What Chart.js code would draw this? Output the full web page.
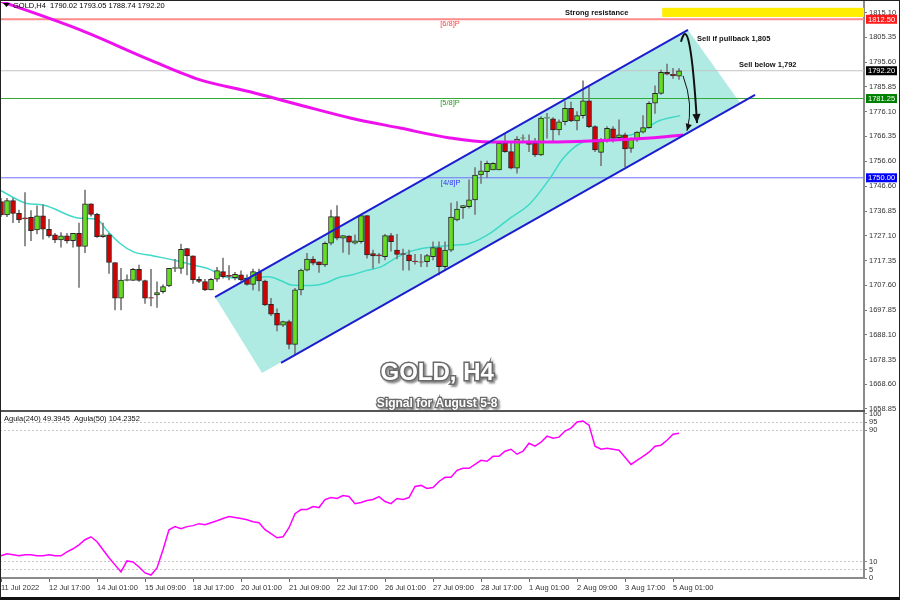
<!DOCTYPE html>
<html>
<head>
<meta charset="utf-8">
<script src="https://cdn.jsdelivr.net/npm/chart.js@4.4.0/dist/chart.umd.min.js"></script>
<style>
  html, body { margin:0; padding:0; background:#fff; }
  #wrap { position:relative; width:900px; height:600px; overflow:hidden; background:#fff; }
  #main { position:absolute; left:0; top:0; }
  #osc { position:absolute; left:0; top:405px; }
  #sep { position:absolute; left:0; top:410px; width:865px; height:2px; background:#555; }
  #frame { position:absolute; left:0; top:0; width:900px; height:600px; box-sizing:border-box; border:1px solid #222; border-bottom:3px solid #111; pointer-events:none; }
</style>
</head>
<body>
<div id="wrap">
  <canvas id="main" width="900" height="411"></canvas>
  <canvas id="osc" width="900" height="195"></canvas>
  <div id="sep"></div>
  <div id="frame"></div>
</div>
<script>
// velas H4 (indice de barra 0..113)
var openP  = [1740.6,1735.4,1741.0,1736.0,1734.2,1734.4,1729.4,1735.0,1729.7,1727.5,1725.5,1727.1,1725.2,1728.1,1722.9,1739.7,1735.6,1726.8,1727.5,1716.6,
              1702.5,1709.5,1709.5,1713.9,1709.5,1702.8,1703.8,1705.1,1707.4,1714.3,1714.3,1722.1,1719.2,1710.0,1709.1,1705.8,1710.0,1713.0,1711.5,1710.6,
              1711.7,1710.4,1708.0,1712.7,1709.3,1700.1,1696.6,1691.9,1693.3,1684.3,1705.8,1713.6,1718.0,1716.9,1715.6,1724.2,1734.7,1726.2,1727.0,1724.2,
              1724.8,1735.1,1720.1,1719.6,1718.9,1727.2,1721.5,1720.1,1719.6,1717.2,1716.9,1716.9,1718.9,1722.5,1715.0,1721.5,1733.4,1738.2,1738.6,1741.3,
              1751.1,1752.4,1753.1,1753.1,1763.6,1760.3,1753.8,1765.6,1764.5,1763.6,1759.0,1773.5,1773.2,1768.9,1772.1,1777.4,1772.4,1774.5,1780.3,1770.2,
              1760.0,1764.5,1769.3,1765.8,1766.9,1761.6,1764.9,1768.0,1769.8,1779.4,1783.3,1791.6,1790.8,1790.02];
var highP  = [1741.9,1741.9,1741.9,1737.3,1744.2,1737.1,1738.9,1739.3,1733.6,1728.1,1728.4,1728.1,1728.1,1732.1,1745.2,1739.7,1736.0,1732.1,1728.1,1716.6,
              1714.3,1711.7,1714.3,1715.6,1709.7,1713.9,1709.0,1707.8,1714.3,1717.9,1723.9,1722.2,1719.2,1711.0,1710.0,1710.4,1714.7,1718.3,1715.4,1712.7,
              1713.3,1711.7,1714.0,1714.0,1709.7,1702.5,1698.3,1693.5,1693.9,1706.4,1714.0,1720.2,1718.9,1716.9,1724.8,1737.3,1739.0,1727.2,1727.2,1727.5,
              1735.3,1735.1,1721.5,1720.2,1727.7,1728.1,1727.7,1721.9,1721.5,1719.8,1719.8,1719.8,1724.8,1724.8,1724.8,1740.0,1740.6,1739.0,1749.2,1754.0,
              1756.6,1756.6,1756.0,1763.6,1767.2,1764.0,1766.2,1766.9,1766.9,1765.6,1774.1,1775.4,1773.7,1772.8,1780.0,1779.8,1776.1,1788.2,1785.9,1770.6,
              1765.6,1770.2,1770.2,1772.8,1767.6,1765.8,1768.2,1774.5,1780.0,1786.3,1792.5,1794.8,1793.2,1793.05];
var lowP   = [1734.7,1734.7,1732.3,1732.3,1723.1,1725.2,1727.9,1725.8,1726.5,1724.4,1722.6,1724.2,1722.6,1706.8,1720.5,1734.9,1726.5,1726.5,1712.3,1697.9,
              1697.9,1709.3,1709.5,1709.1,1700.5,1699.5,1698.9,1704.5,1707.1,1713.0,1712.3,1711.7,1708.4,1708.7,1705.5,1705.8,1709.1,1710.4,1709.7,1709.7,
              1709.3,1707.7,1705.8,1705.4,1699.6,1695.6,1689.6,1691.3,1682.5,1680.4,1703.8,1713.3,1715.6,1712.7,1715.0,1723.5,1725.5,1720.6,1719.8,1723.8,
              1724.2,1718.3,1714.3,1716.3,1717.6,1721.1,1718.0,1713.6,1713.6,1715.9,1715.0,1715.0,1717.6,1711.7,1713.6,1720.9,1733.0,1734.0,1738.0,1735.6,
              1747.8,1750.0,1753.1,1753.1,1760.0,1753.5,1751.8,1764.0,1760.3,1758.3,1758.7,1765.6,1764.5,1766.9,1770.8,1772.1,1768.9,1773.5,1769.8,1760.3,
              1754.8,1764.0,1764.0,1764.9,1754.4,1760.0,1764.3,1767.6,1769.5,1775.4,1782.9,1790.6,1789.2,1788.74];
var closeP = [1735.4,1741.0,1736.0,1733.4,1733.8,1729.2,1735.0,1729.7,1727.1,1725.5,1727.1,1725.1,1728.1,1722.9,1739.7,1735.6,1726.8,1727.5,1716.6,1702.5,
              1709.7,1709.9,1713.9,1709.5,1702.5,1702.5,1704.7,1707.1,1714.3,1714.6,1721.8,1719.2,1709.7,1709.1,1705.8,1710.0,1713.4,1711.0,1711.1,1711.9,
              1709.7,1708.0,1713.0,1709.3,1699.9,1696.2,1691.9,1693.3,1684.3,1705.8,1713.6,1718.0,1716.3,1715.6,1724.2,1734.7,1726.2,1727.2,1724.6,1725.1,
              1735.1,1719.6,1719.2,1719.2,1727.2,1724.8,1719.8,1719.8,1717.2,1716.9,1716.7,1719.3,1722.5,1715.0,1721.5,1734.5,1737.7,1739.0,1741.3,1751.1,
              1752.7,1755.7,1755.7,1763.6,1760.3,1753.8,1765.3,1765.8,1763.2,1759.0,1773.5,1773.7,1768.9,1772.1,1777.4,1772.4,1774.5,1780.3,1770.2,1761.0,
              1764.3,1769.5,1765.6,1766.9,1761.4,1765.3,1768.0,1769.8,1779.4,1783.3,1791.6,1790.8,1790.3,1792.20];

// media turquesa
var cyanX = [-0.2,4.3,7,13.2,16,17.6,19.8,22,25.4,28.7,32,34.8,37.3,40.7,44.6,46.8,48.4,51.8,54,56.2,58.4,60.7,63.4,66.2,68.4,71.2,74.8,78.2,81.5,84.8,88.2,91.5,93.7,97,100.4,103.7,107,109.3,113.2];
var cyanY = [1745.2,1739.9,1739.3,1734.0,1733.6,1729.4,1724.2,1720.9,1719.2,1717.6,1715.6,1713.9,1711.0,1710.4,1711.0,1709.3,1707.7,1707.5,1708.4,1710.6,1711.7,1713.3,1715.0,1718.9,1721.1,1722.5,1723.3,1724.2,1728.1,1734.0,1739.9,1749.8,1757.7,1764.0,1764.9,1766.2,1768.5,1772.1,1774.5];
// media magenta (200)
var pinkX = [-0.5,13.2,24.8,33.2,41.5,49.8,58.2,66.5,74.8,81.5,91.5,98.2,108.2,113.7];
var pinkY = [1820.0,1808.3,1796.5,1788.6,1783.9,1778.7,1773.6,1769.6,1765.7,1764.1,1764.1,1764.5,1765.7,1766.9];

// canal alcista
var upperX = [35.67,114.5],  upperY = [1703.0,1808.3];
var lowerX = [46.67,125.67], lowerY = [1677.0,1782.7];
var channelX = [35.67,114.5,123.2,43.5,35.67];
var channelY = [1703.0,1808.3,1779.5,1673.0,1703.0];

// niveles horizontales
var levelPrices = [1812.50,1792.20,1781.25,1750.00];

// oscilador Agula
var oscVals = [13.5,14.7,14.1,13.5,14.1,14.1,13.5,13.5,14.1,13.5,13.5,15.9,17.8,20.2,23.3,25.1,22.1,17.2,12.3,8.0,
               3.7,10.4,9.8,6.7,3.1,1.8,6.1,17.2,29.4,31.3,30.0,31.3,31.9,33.1,32.5,33.7,34.9,36.2,37.4,36.8,
               36.2,35.5,34.3,33.7,29.4,27.0,24.5,25.1,30.6,39.2,41.7,41.7,43.5,42.9,47.8,49.0,48.4,50.2,49.6,45.3,
               46.0,47.2,47.8,49.6,46.6,45.3,48.4,47.8,49.0,55.8,56.4,54.5,55.1,58.8,61.3,61.3,65.6,66.8,66.8,69.2,
               71.7,71.1,74.1,74.1,77.2,78.4,75.4,77.2,82.1,80.3,82.7,86.4,85.2,85.8,89.5,91.3,95.0,95.6,93.1,80.3,
               78.4,79.0,78.4,77.8,73.5,69.2,71.7,74.1,76.6,80.3,80.9,83.9,87.6,88.2];

// ejes
var priceTicks = [1658.85,1668.60,1678.35,1688.10,1697.85,1707.60,1717.35,1727.10,1736.85,1746.60,1756.60,1766.35,1776.10,1785.85,1795.60,1805.35,1815.10];
var oscTicks = [0,5,10,90,95,100];
var timeTickBars = [0,8,16,24,32,40,48,56,64,72,80,88,96,104,112];
var timeLabels = ['11 Jul 2022','12 Jul 17:00','14 Jul 01:00','15 Jul 09:00','18 Jul 17:00','20 Jul 01:00','21 Jul 09:00','22 Jul 17:00',
                  '26 Jul 01:00','27 Jul 09:00','28 Jul 17:00','1 Aug 01:00','2 Aug 09:00','3 Aug 17:00','5 Aug 01:00'];

var FONT = 'Liberation Sans';
var X_MIN = -0.1667, X_MAX = 143.83;

function pts(xs, ys) {
    return xs.map(function (x, k) { return { x: x, y: ys[k] }; });
}

var bars = openP.map(function (o, i) { return i; });
var bodyData = bars.map(function (i) { return { x: i, y: [openP[i], closeP[i]] }; });
var wickData = bars.map(function (i) { return { x: i, y: [lowP[i], highP[i]] }; });
var bodyColors = bars.map(function (i) { return closeP[i] >= openP[i] ? '#66dd22' : '#d40000'; });

function levelLine(p, color, w) {
    return { type: 'line', data: [{ x: X_MIN, y: p }, { x: X_MAX, y: p }], borderColor: color, borderWidth: w,
             pointRadius: 0, order: 8 };
}

function arrow(ctx, xs, ys, a, w, head) {
    var x0 = xs.getPixelForValue(a[0]), y0 = ys.getPixelForValue(a[1]);
    var cx = xs.getPixelForValue(a[2]), cy = ys.getPixelForValue(a[3]);
    var x1 = xs.getPixelForValue(a[4]), y1 = ys.getPixelForValue(a[5]);
    ctx.strokeStyle = '#111';
    ctx.fillStyle = '#111';
    ctx.lineWidth = w;
    ctx.beginPath();
    ctx.moveTo(x0, y0);
    ctx.quadraticCurveTo(cx, cy, x1, y1);
    ctx.stroke();
    var ang = Math.atan2(y1 - cy, x1 - cx);
    ctx.beginPath();
    ctx.moveTo(x1, y1);
    ctx.lineTo(x1 - head * Math.cos(ang) + head * 0.45 * Math.sin(ang), y1 - head * Math.sin(ang) - head * 0.45 * Math.cos(ang));
    ctx.lineTo(x1 - head * Math.cos(ang) - head * 0.45 * Math.sin(ang), y1 - head * Math.sin(ang) + head * 0.45 * Math.cos(ang));
    ctx.closePath();
    ctx.fill();
}

// anotaciones (en unidades de barra / precio)
var arrowBig = [113.33, 1803.6, 114.83, 1817.0, 116.0, 1771.6];
var arrowSmall = [113.67, 1790.2, 115.5, 1778.8, 114.33, 1768.5];

var overlayMain = {
    id: 'overlayMain',
    beforeDatasetsDraw: function (chart) {
        var ctx = chart.ctx, xs = chart.scales.x, ys = chart.scales.y, a = chart.chartArea;
        ctx.save();
        // zona de resistencia
        var xl = xs.getPixelForValue(110.2);
        var yt = ys.getPixelForValue(1817.0), yb = ys.getPixelForValue(1813.4);
        ctx.fillStyle = '#ffee00';
        ctx.fillRect(xl, yt, a.right - xl, yb - yt);
        ctx.restore();
    },
    afterDatasetsDraw: function (chart) {
        var ctx = chart.ctx, xs = chart.scales.x, ys = chart.scales.y;
        ctx.save();
        ctx.textBaseline = 'middle';
        ctx.textAlign = 'left';
        ctx.font = 'bold 7.5px ' + FONT;
        ctx.fillStyle = '#111';
        ctx.fillText('Strong resistance', xs.getPixelForValue(94), ys.getPixelForValue(1814.8));
        ctx.fillText('Sell if pullback 1,805', xs.getPixelForValue(116), ys.getPixelForValue(1804.7));
        ctx.fillText('Sell below 1,792', xs.getPixelForValue(123), ys.getPixelForValue(1794.5));

        ctx.font = '7.5px ' + FONT;
        ctx.fillStyle = '#ff4040';
        ctx.fillText('[6/8]P', xs.getPixelForValue(73.2), ys.getPixelForValue(1810.7));
        ctx.fillStyle = '#229922';
        ctx.fillText('[5/8]P', xs.getPixelForValue(73.2), ys.getPixelForValue(1779.5));
        ctx.fillStyle = '#3333ff';
        ctx.fillText('[4/8]P', xs.getPixelForValue(73.3), ys.getPixelForValue(1748.0));

        arrow(ctx, xs, ys, arrowBig, 2, 9);
        arrow(ctx, xs, ys, arrowSmall, 1, 7);

        // titulo
        ctx.textAlign = 'center';
        var tx = xs.getPixelForValue(72.7);
        ctx.font = 'bold 24px ' + FONT;
        ctx.shadowColor = 'rgba(0,0,0,0.45)';
        ctx.shadowOffsetX = 2;
        ctx.shadowOffsetY = 2;
        ctx.shadowBlur = 2;
        ctx.lineWidth = 3;
        ctx.strokeStyle = '#6a6a6a';
        ctx.strokeText('GOLD, H4', tx, ys.getPixelForValue(1673.0));
        ctx.shadowColor = 'transparent';
        ctx.fillStyle = '#fff';
        ctx.fillText('GOLD, H4', tx, ys.getPixelForValue(1673.0));
        ctx.font = 'bold 12px ' + FONT;
        ctx.shadowColor = 'rgba(0,0,0,0.4)';
        ctx.lineWidth = 2.5;
        ctx.strokeStyle = '#6a6a6a';
        ctx.strokeText('Signal for August 5-8', tx, ys.getPixelForValue(1660.8));
        ctx.shadowColor = 'transparent';
        ctx.fillText('Signal for August 5-8', tx, ys.getPixelForValue(1660.8));
        ctx.restore();
    },
    afterDraw: function (chart) {
        var ctx = chart.ctx, ys = chart.scales.y, a = chart.chartArea;
        ctx.save();
        // cabecera
        ctx.fillStyle = '#000';
        ctx.beginPath();
        ctx.moveTo(3, 3); ctx.lineTo(10, 3); ctx.lineTo(6.5, 7);
        ctx.closePath();
        ctx.fill();
        ctx.font = '7.5px ' + FONT;
        ctx.textBaseline = 'middle';
        ctx.textAlign = 'left';
        ctx.fillText('GOLD,H4  1790.02 1793.05 1788.74 1792.20', 13, 5.5);
        // etiquetas de precio en el eje
        var boxColors = ['#ff1a1a', '#000000', '#008000', '#0000ff'];
        levelPrices.forEach(function (p, k) {
            var y = ys.getPixelForValue(p);
            ctx.fillStyle = boxColors[k];
            ctx.fillRect(a.right + 2, y - 4.5, 31, 9);
            ctx.fillStyle = '#fff';
            ctx.fillText(p.toFixed(2), a.right + 4, y + 0.5);
        });
        ctx.restore();
    }
};

var mainChart = new Chart(document.getElementById('main'), {
    type: 'bar',
    data: {
        datasets: [
            { type: 'line', data: pts(channelX, channelY), fill: 'shape', backgroundColor: '#b0ebe3',
              borderWidth: 0, pointRadius: 0, order: 10 },
            levelLine(levelPrices[0], '#ff8a8a', 2),
            levelLine(levelPrices[1], '#c4c4c4', 1),
            levelLine(levelPrices[2], '#33aa33', 1),
            levelLine(levelPrices[3], '#7070ff', 1),
            { type: 'line', data: pts(cyanX, cyanY), borderColor: '#3fd9c8', borderWidth: 1.5, pointRadius: 0,
              cubicInterpolationMode: 'monotone', order: 6 },
            { type: 'bar', data: wickData, backgroundColor: '#7a7a7a', barThickness: 1, grouped: false, order: 5 },
            { type: 'bar', data: bodyData, backgroundColor: bodyColors, borderColor: '#262626', borderWidth: 1,
              borderSkipped: false, barThickness: 5, grouped: false, order: 4 },
            { type: 'line', data: pts(pinkX, pinkY), borderColor: '#ee11ee', borderWidth: 3, pointRadius: 0,
              cubicInterpolationMode: 'monotone', order: 3 },
            { type: 'line', data: pts(upperX, upperY), borderColor: '#1c1cd0', borderWidth: 2, pointRadius: 0, order: 2 },
            { type: 'line', data: pts(lowerX, lowerY), borderColor: '#1c1cd0', borderWidth: 2, pointRadius: 0, order: 2 }
        ]
    },
    options: {
        responsive: false,
        animation: false,
        layout: { padding: { top: 2, left: 0, right: 0, bottom: 0 } },
        plugins: { legend: { display: false }, tooltip: { enabled: false } },
        scales: {
            x: { type: 'linear', display: false, min: X_MIN, max: X_MAX, offset: false, grid: { offset: false } },
            y: {
                position: 'right', min: 1658.06, max: 1819.3,
                afterBuildTicks: function (s) { s.ticks = priceTicks.map(function (v) { return { value: v }; }); },
                afterFit: function (s) { s.width = 36; s.paddingTop = 0; s.paddingBottom = 0; },
                ticks: { autoSkip: false, padding: 2, color: '#333', font: { family: FONT, size: 7.5 },
                         callback: function (v) { return v.toFixed(2); } },
                grid: { drawOnChartArea: false, tickLength: 3, tickColor: '#777' },
                border: { display: true, color: '#8a8a8a', width: 2 }
            }
        }
    },
    plugins: [overlayMain]
});

var overlayOsc = {
    id: 'overlayOsc',
    afterDraw: function (chart) {
        var ctx = chart.ctx, a = chart.chartArea;
        ctx.save();
        ctx.font = '7.5px ' + FONT;
        ctx.fillStyle = '#111';
        ctx.textBaseline = 'middle';
        ctx.fillText('Agula(240) 49.3945  Agula(50) 104.2352', a.left + 4, a.top + 6);
        ctx.restore();
    }
};

var oscChart = new Chart(document.getElementById('osc'), {
    type: 'line',
    data: {
        datasets: [
            { data: pts(bars, oscVals), borderColor: '#ff00ff', borderWidth: 1.5, pointRadius: 0 }
        ]
    },
    options: {
        responsive: false,
        animation: false,
        layout: { padding: { top: 8, left: 0, right: 0, bottom: 0 } },
        plugins: { legend: { display: false }, tooltip: { enabled: false } },
        scales: {
            x: {
                type: 'linear', min: X_MIN, max: X_MAX, offset: false,
                afterBuildTicks: function (s) { s.ticks = timeTickBars.map(function (v) { return { value: v }; }); },
                afterFit: function (s) { s.height = 22; s.paddingLeft = 0; s.paddingRight = 0; },
                ticks: { autoSkip: false, maxRotation: 0, align: 'start', padding: 1, color: '#333',
                         font: { family: FONT, size: 7.5 },
                         callback: function (v) { return timeLabels[timeTickBars.indexOf(v)]; } },
                grid: { drawOnChartArea: false, tickLength: 4, tickColor: '#666' },
                border: { display: true, color: '#8a8a8a', width: 2 }
            },
            y: {
                position: 'right', min: 0, max: 100.5,
                afterBuildTicks: function (s) { s.ticks = oscTicks.map(function (v) { return { value: v }; }); },
                afterFit: function (s) { s.width = 36; s.paddingTop = 0; s.paddingBottom = 0; },
                ticks: { autoSkip: false, padding: 2, color: '#333', font: { family: FONT, size: 7.5 } },
                grid: {
                    drawTicks: true, tickLength: 3, tickColor: '#888',
                    color: function (c) { var v = c.tick ? c.tick.value : -1; return (v === 5 || v === 10 || v === 90 || v === 95) ? '#c8c8c8' : 'rgba(0,0,0,0)'; }
                },
                border: { display: true, color: '#8a8a8a', width: 2, dash: [2, 2] }
            }
        }
    },
    plugins: [overlayOsc]
});
</script>
</body>
</html>
